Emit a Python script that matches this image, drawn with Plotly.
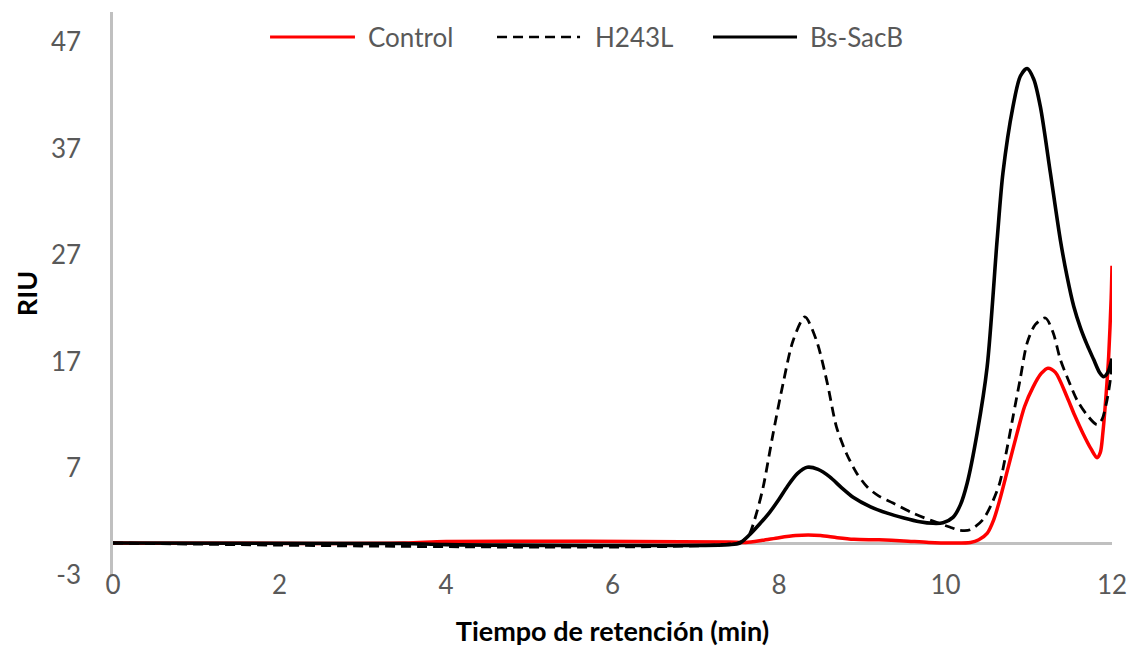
import plotly.graph_objects as go

# ---- data ----
ctrl_x = [0, 3.5, 4.0, 7.4, 7.6, 7.8, 8.0, 8.2, 8.35, 8.5, 8.7, 8.9, 9.2, 9.5, 9.8, 10.1, 10.3, 10.4,
          10.5, 10.58, 10.65, 10.75, 10.86, 10.95, 11.05, 11.15, 11.23, 11.32, 11.46, 11.55, 11.65,
          11.75, 11.82, 11.86, 11.89, 11.93, 11.96, 11.99, 12.0]
ctrl_y = [0, 0, 0.15, 0.1, 0.05, 0.25, 0.5, 0.7, 0.75, 0.7, 0.5, 0.35, 0.3, 0.2, 0.05, 0.0, 0.05, 0.3,
          0.9, 2.2, 4.0, 7.0, 10.3, 12.8, 14.6, 15.9, 16.4, 16.0, 13.7, 12.0, 10.3,
          8.8, 8.0, 8.5, 10.3, 14.0, 17.5, 23.0, 26.0]

h243l_x = [0, 7.5, 7.6, 7.65, 7.73, 7.81, 7.93, 8.05, 8.17, 8.31, 8.45, 8.58, 8.69, 8.81, 8.93, 9.06,
           9.2, 9.37, 9.61, 9.85, 10.05, 10.17, 10.3, 10.45, 10.55, 10.65, 10.73, 10.81, 10.9, 10.98,
           11.08, 11.2, 11.29, 11.38, 11.48, 11.58, 11.7, 11.82, 11.88, 11.94, 11.98, 12.0]
h243l_y = [0, 0, 0.4, 0.9, 2.8, 5.25, 10.3, 15.0, 19.0, 21.2, 19.0, 15.0, 10.9, 8.4, 6.6, 5.25,
           4.4, 3.75, 2.8, 2.05, 1.5, 1.2, 1.25, 2.2, 3.6, 5.6, 8.5, 11.8, 15.5, 18.75,
           20.5, 21.1, 19.8, 17.2, 15.2, 13.4, 12.0, 11.1, 11.6, 13.4, 15.3, 17.0]

bs_x = [0, 3.5, 4.0, 7.4, 7.53, 7.65, 7.77, 7.89, 8.0, 8.1, 8.22, 8.34, 8.47, 8.61, 8.75, 8.89, 9.1,
        9.3, 9.5, 9.69, 9.85, 9.97, 10.09, 10.18, 10.26, 10.38, 10.5, 10.62, 10.69, 10.81, 10.9,
        10.98, 11.06, 11.14, 11.26, 11.38, 11.46, 11.54, 11.62, 11.7, 11.78, 11.85, 11.9, 11.95, 12.0]
bs_y = [0, -0.05, -0.15, -0.15, 0.0, 0.8, 1.8, 2.9, 4.1, 5.3, 6.5, 7.1, 6.9, 6.2, 5.2, 4.3, 3.4,
        2.8, 2.35, 2.0, 1.85, 1.9, 2.4, 3.6, 5.6, 10.3, 16.5, 28.4, 34.7, 40.9, 43.8,
        44.5, 43.5, 40.9, 34.7, 28.4, 25.0, 22.2, 20.2, 18.6, 17.2, 16.0, 15.6, 16.0, 17.3]

series_names = ["Control", "H243L", "Bs-SacB"]
x_ticks = [0, 2, 4, 6, 8, 10, 12]
y_ticks = [-3, 7, 17, 27, 37, 47]

FONT = "Lato"
GRAY = "#595959"

fig = go.Figure()
fig.add_trace(go.Scatter(x=ctrl_x, y=ctrl_y, mode="lines", name=series_names[0],
                         line=dict(color="#ff0000", width=3.5, shape="spline", smoothing=0.8)))
fig.add_trace(go.Scatter(x=h243l_x, y=h243l_y, mode="lines", name=series_names[1],
                         line=dict(color="#000000", width=2.8, dash="10px,6px", shape="spline", smoothing=0.8)))
fig.add_trace(go.Scatter(x=bs_x, y=bs_y, mode="lines", name=series_names[2],
                         line=dict(color="#000000", width=3.6, shape="spline", smoothing=0.8)))

# custom legend (long line samples like the reference)
ly = 0.9556
legend_items = [
    (0.1572, 0.2422, 0.2533, dict(color="#ff0000", width=3)),
    (0.3844, 0.4675, 0.4805, dict(color="#000000", width=2.5, dash="10px,6px")),
    (0.6006, 0.6847, 0.6957, dict(color="#000000", width=3)),
]
for (x0, x1, tx, ln), name in zip(legend_items, series_names):
    fig.add_shape(type="line", xref="paper", yref="paper", x0=x0, x1=x1, y0=ly, y1=ly, line=ln)
    fig.add_annotation(xref="paper", yref="paper", x=tx, y=ly, text=name, showarrow=False,
                       xanchor="left", yanchor="middle",
                       font=dict(family=FONT, size=26, color=GRAY))

fig.update_layout(
    width=1130, height=650,
    margin=dict(l=113, r=18, t=12, b=75, autoexpand=False),
    paper_bgcolor="white", plot_bgcolor="white",
    showlegend=False,
    font=dict(family=FONT, size=26, color=GRAY),
)
fig.update_xaxes(
    range=[0, 12], tickvals=x_ticks, ticktext=[str(v) for v in x_ticks],
    showgrid=False, zeroline=False, showline=False, ticks="",
    anchor="free", position=0.014, automargin=False,
    tickfont=dict(family=FONT, size=26, color=GRAY),
    title=dict(text="<b>Tiempo de retención (min)</b>", standoff=22,
               font=dict(family=FONT, size=27, color="#000000")),
)
fig.update_yaxes(
    range=[-3, 49.8], tickvals=y_ticks, ticktext=[str(v) for v in y_ticks],
    showgrid=False, zeroline=True, zerolinecolor="#c0c0c0", zerolinewidth=2.5,
    showline=True, linecolor="#c0c0c0", linewidth=2.5, ticks="",
    ticklabelstandoff=24, automargin=False,
    tickfont=dict(family=FONT, size=26, color=GRAY),
    title=dict(text="<b>RIU</b>", standoff=6,
               font=dict(family=FONT, size=27, color="#000000")),
)

# remove the page's default body margin / scrollbars so the figure fills the window exactly
fig.write_html("out.html",
               config={"displayModeBar": False},
               post_script="document.body.style.margin='0';document.body.style.overflow='hidden';")
